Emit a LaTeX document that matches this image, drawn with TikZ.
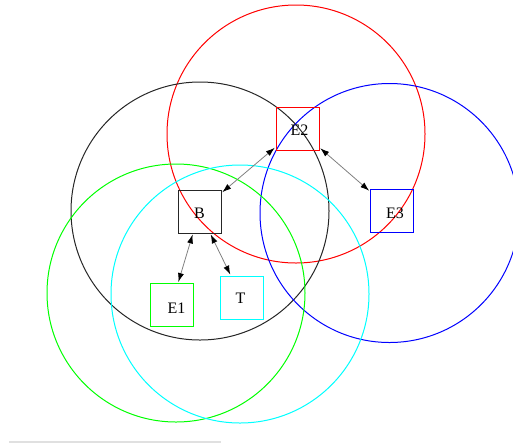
\documentclass[tikz,border=0pt]{standalone}
\usepackage{fontspec}
\setmainfont{Liberation Serif}
\usetikzlibrary{arrows.meta}
\definecolor{ccyan}{RGB}{0,255,255}
\definecolor{cgreen}{RGB}{0,255,0}
\definecolor{cred}{RGB}{255,0,0}
\definecolor{cblue}{RGB}{0,0,255}
\begin{document}
\begin{tikzpicture}[x=1pt,y=-1pt,
  ring/.style={line width=1pt},
  box/.style={draw,line width=1pt,minimum width=43pt,minimum height=43pt,inner sep=0pt},
  lbl/.style={font=\fontsize{16}{16}\selectfont},
  link/.style={draw=gray,line width=0.8pt,{Latex[length=9pt,width=6pt,color=black]}-{Latex[length=9pt,width=6pt,color=black]},shorten <=1pt,shorten >=1pt}]
\useasboundingbox (0,0) rectangle (513,445);
% circles
\draw[ring,cred] (296,134) circle (129);
\draw[ring,black!85] (200,211) circle (129);
\draw[ring,cblue] (389.5,213) circle (129.5);
\draw[ring,cgreen] (176,293) circle (129);
\draw[ring,ccyan] (240,294) circle (129);
% boxes
\node[box,draw=cred,label={[lbl,shift={(2pt,-2pt)}]center:E2}] (E2) at (297.5,128.5) {};
\node[box,draw=black!85,label={[lbl,shift={(0pt,-2pt)}]center:B}] (B) at (199.5,211.5) {};
\node[box,draw=cblue,label={[lbl,shift={(3pt,-3pt)}]center:E3}] (E3) at (392,210.5) {};
\node[box,draw=cgreen,label={[lbl,shift={(5pt,-3pt)}]center:E1}] (E1) at (171.5,305) {};
\node[box,draw=ccyan,label={[lbl,shift={(-1pt,-1pt)}]center:T}] (T) at (241.5,297.5) {};
% connectors
\path[link] (B) -- (E2);
\path[link] (E2) -- (E3);
\path[link] (B) -- (E1);
\path[link] (B) -- (T);
% bottom grey bar
\coordinate (g1) at (9,442);
\coordinate (g2) at (221,442);
\draw[black!12,line width=2pt] (g1) -- (g2);
\end{tikzpicture}
\end{document}
